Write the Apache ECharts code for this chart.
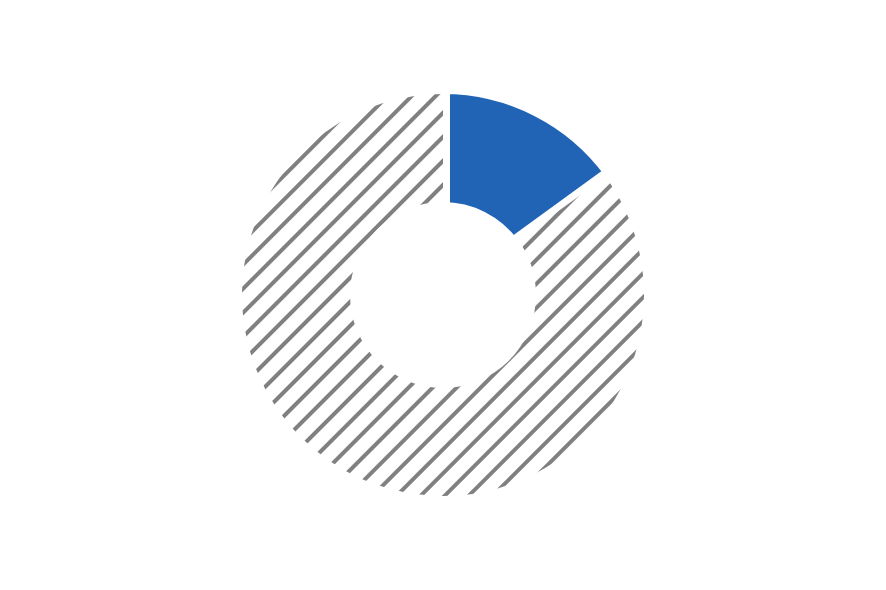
<!DOCTYPE html>
<html>
<head>
<meta charset="utf-8">
<script src="https://cdn.jsdelivr.net/npm/echarts@6/dist/echarts.min.js"></script>
<style>
html,body{margin:0;padding:0;background:#fff;}
#chart{width:886px;height:590px;}
</style>
</head>
<body>
<div id="chart"></div>
<script>
var categories = ['Share', 'Rest'];
var values = [15, 85];
var sliceColors = ['#2164B6', '#ffffff'];

var chart = echarts.init(document.getElementById('chart'));

var stripeDecal = {
  symbol: 'rect',
  symbolSize: 1,
  color: '#808080',
  backgroundColor: '#ffffff',
  dashArrayX: [1, 0],
  dashArrayY: [3.2, 12.1],
  rotation: -Math.PI / 4
};

// Lower series: the highlighted slice (white outline makes the gap)
var lowerData = categories.map(function (name, i) {
  if (i === 0) {
    return {
      name: name, value: values[i],
      itemStyle: { color: sliceColors[i], borderColor: '#ffffff', borderWidth: 14 }
    };
  }
  return { name: name, value: values[i], itemStyle: { color: 'transparent', borderWidth: 0 } };
});

// Upper series: the hatched remainder
var upperData = categories.map(function (name, i) {
  if (i === 1) {
    return {
      name: name, value: values[i],
      itemStyle: { color: sliceColors[i], borderWidth: 0, decal: stripeDecal }
    };
  }
  return { name: name, value: values[i], itemStyle: { color: 'transparent', borderWidth: 0 } };
});

chart.setOption({
  animation: false,
  backgroundColor: '#ffffff',
  series: [
    {
      type: 'pie',
      center: [443, 295],
      radius: [86, 208],
      startAngle: 90,
      clockwise: true,
      silent: true,
      label: { show: false },
      labelLine: { show: false },
      emphasis: { disabled: true },
      data: lowerData,
      z: 1
    },
    {
      type: 'pie',
      center: [443, 295],
      radius: [93, 201],
      startAngle: 90,
      clockwise: true,
      silent: true,
      label: { show: false },
      labelLine: { show: false },
      emphasis: { disabled: true },
      data: upperData,
      z: 2
    }
  ]
});
</script>
</body>
</html>
